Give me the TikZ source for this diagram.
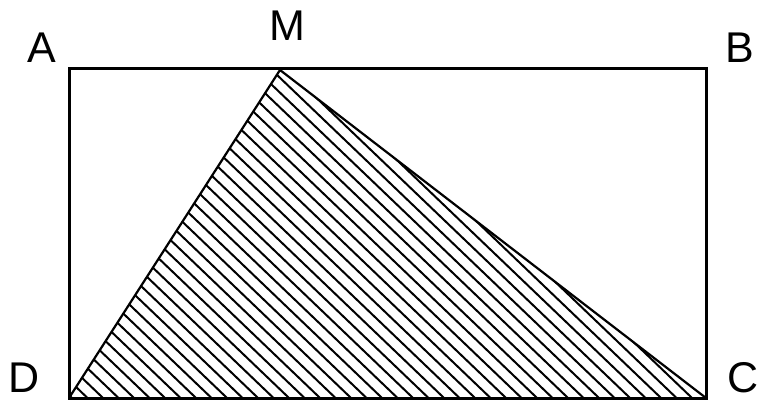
\documentclass[tikz,border=0pt]{standalone}
\usepackage{fontspec}
\setmainfont{Liberation Sans}
\tikzset{
  lbl/.style={inner sep=0pt, font=\fontsize{43}{43}\selectfont},
  frame/.style={line width=3pt, line join=miter},
  side/.style={line width=2.2pt, line join=round, line cap=round},
  hatchline/.style={line width=2pt}
}
\begin{document}
\begin{tikzpicture}[x=1pt, y=-1pt]
\useasboundingbox (0,0) rectangle (759,401);
\coordinate (A) at (69,69);
\coordinate (B) at (706,69);
\coordinate (C) at (706,398);
\coordinate (D) at (69,398);
\coordinate (M) at (280,70);
\begin{scope}
  \clip (D) -- (M) -- (C) -- cycle;
  \foreach \i in {0,...,42} {
    \draw[hatchline] ({72+15.5*\i-350},{398-335}) -- ({72+15.5*\i+20},{398+19.1});
  }
\end{scope}
\draw[frame] (A) -- (B) -- (C) -- (D) -- cycle;
\draw[side] (D) -- (M) -- (C);
\node[lbl] (lA) at (42,47.5) {A};
\node[lbl] (lM) at (287,25.5) {M};
\node[lbl] (lB) at (740,47.5) {B};
\node[lbl] (lD) at (24,378) {D};
\node[lbl] (lC) at (743,378) {C};
\end{tikzpicture}
\end{document}
